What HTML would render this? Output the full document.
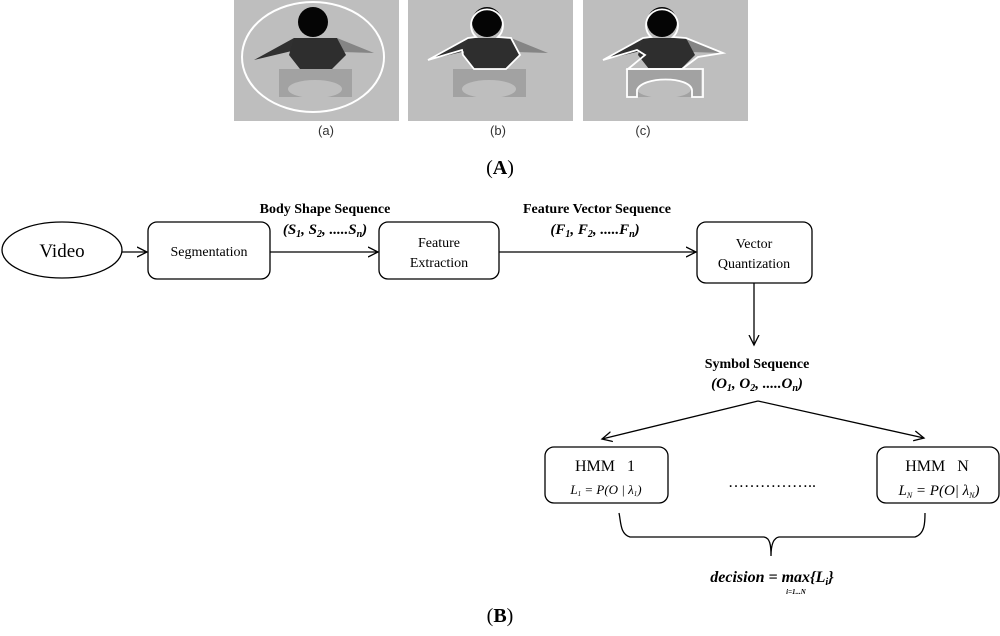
<!DOCTYPE html>
<html><head><style>body{margin:0;background:#fff}</style></head><body>
<svg width="1000" height="631" viewBox="0 0 1000 631" xmlns="http://www.w3.org/2000/svg" font-family="Liberation Serif, serif">
<defs>
<g id="fig">
<rect x="0" y="0" width="165" height="121" fill="#bebebe"/>
<rect x="45" y="69" width="73" height="28" fill="#a2a2a2"/>
<ellipse cx="81" cy="89" rx="27" ry="9" fill="#bebebe"/>
<rect x="50" y="97" width="64" height="5" fill="#bebebe"/>
<polygon points="103,38 140,53 108,52" fill="#858585"/>
<polygon points="20,60 60,38 62,50" fill="#303030"/>
<polygon points="60,38 103,38 112,55 98,69 66,69 55,55" fill="#2e2e2e"/>
<circle cx="79" cy="22" r="15" fill="#050505"/>
</g>
<marker id="ah" markerWidth="12" markerHeight="12" refX="10" refY="6" orient="auto" markerUnits="userSpaceOnUse"><path d="M0,1 L10,6 L0,11" fill="none" stroke="#000" stroke-width="1.3"/></marker>
</defs>
<use href="#fig" x="234" y="0"/>
<ellipse cx="313" cy="57" rx="71" ry="55" fill="none" stroke="#fff" stroke-width="2"/>
<use href="#fig" x="408" y="0"/>
<path d="M428,60 L468,38 L476,37 A16,16 0 1 1 498,37 L511,38 L520,55 L506,69 L474,69 L463,55 L462,50 Z" fill="none" stroke="#fff" stroke-width="1.8"/>
<use href="#fig" x="583" y="0"/>
<path d="M603,60 L643,38 L651,37 A16,16 0 1 1 673,37 L686,38 L723,53 L698,57 L682,69 L628,69 L645,55 L637,50 Z" fill="none" stroke="#fff" stroke-width="1.8"/>
<path d="M627,69 L703,69 L703,97 L692,97 L692,90 C690,76 642,76 637,90 L637,97 L627,97 Z" fill="none" stroke="#fff" stroke-width="1.8"/>
<g font-family="Liberation Sans, sans-serif" font-size="13" fill="#333" text-anchor="middle">
<text x="326" y="135">(a)</text><text x="498" y="135">(b)</text><text x="643" y="135">(c)</text></g>
<text x="500" y="174" font-size="20" text-anchor="middle">(<tspan font-weight="bold">A</tspan>)</text>
<text x="500" y="622" font-size="20" text-anchor="middle">(<tspan font-weight="bold">B</tspan>)</text>
<g fill="none" stroke="#000" stroke-width="1.3">
<ellipse cx="62" cy="250" rx="60" ry="28"/>
<rect x="148" y="222" width="122" height="57" rx="9"/>
<rect x="379" y="222" width="120" height="57" rx="9"/>
<rect x="697" y="222" width="115" height="61" rx="9"/>
<rect x="545" y="447" width="123" height="56" rx="9"/>
<rect x="877" y="447" width="122" height="56" rx="9"/>
<line x1="122" y1="252" x2="147" y2="252" marker-end="url(#ah)"/>
<line x1="270" y1="252" x2="378" y2="252" marker-end="url(#ah)"/>
<line x1="499" y1="252" x2="696" y2="252" marker-end="url(#ah)"/>
<line x1="754" y1="283" x2="754" y2="345" marker-end="url(#ah)"/>
<line x1="758" y1="401" x2="602" y2="439" marker-end="url(#ah)"/>
<line x1="758" y1="401" x2="924" y2="438" marker-end="url(#ah)"/>
<path d="M619,513 C621,522 620,534 630,537 L764,537 C770,538 771,545 771,556 C771,545 773,538 779,537 L915,537 C925,534 925,522 925,513"/>
</g>
<text x="62" y="257" font-size="19" text-anchor="middle">Video</text>
<g font-size="14" text-anchor="middle">
<text x="209" y="256">Segmentation</text>
<text x="439" y="247">Feature</text><text x="439" y="267">Extraction</text>
<text x="754" y="248">Vector</text><text x="754" y="268">Quantization</text>
</g>
<g font-size="14" font-weight="bold" text-anchor="middle">
<text x="325" y="213">Body Shape Sequence</text>
<text x="597" y="213">Feature Vector Sequence</text>
<text x="757" y="368">Symbol Sequence</text>
</g>
<g font-size="15" font-style="italic" text-anchor="middle" font-weight="bold">
<text x="325" y="234">(S<tspan font-size="10" dy="3">1</tspan><tspan dy="-3">, S</tspan><tspan font-size="10" dy="3">2</tspan><tspan dy="-3">, .....S</tspan><tspan font-size="10" dy="3">n</tspan><tspan dy="-3">)</tspan></text>
<text x="595" y="234">(F<tspan font-size="10" dy="3">1</tspan><tspan dy="-3">, F</tspan><tspan font-size="10" dy="3">2</tspan><tspan dy="-3">, .....F</tspan><tspan font-size="10" dy="3">n</tspan><tspan dy="-3">)</tspan></text>
<text x="757" y="388">(O<tspan font-size="10" dy="3">1</tspan><tspan dy="-3">, O</tspan><tspan font-size="10" dy="3">2</tspan><tspan dy="-3">, .....O</tspan><tspan font-size="10" dy="3">n</tspan><tspan dy="-3">)</tspan></text>
</g>
<g font-size="16" text-anchor="middle">
<text x="605" y="471">HMM&#160;&#160;&#160;1</text>
<text x="937" y="471">HMM&#160;&#160;&#160;N</text>
</g>
<g font-size="13" font-style="italic" text-anchor="middle">
<text x="606" y="494">L<tspan font-size="7" dy="2">1</tspan><tspan dy="-2"> = P(O | λ</tspan><tspan font-size="7" dy="2">1</tspan><tspan dy="-2">)</tspan></text>
<text x="939" y="495" font-size="15">L<tspan font-size="8" dy="3">N</tspan><tspan dy="-3"> = P(O| λ</tspan><tspan font-size="8" dy="3">N</tspan><tspan dy="-3">)</tspan></text>
</g>
<text x="772" y="487" font-size="16" text-anchor="middle">……………..</text>
<text x="772" y="582" font-size="16" font-style="italic" font-weight="bold" text-anchor="middle">decision = max{L<tspan font-size="10" dy="3">i</tspan><tspan dy="-3">}</tspan></text>
<text x="796" y="594" font-size="7" font-style="italic" font-weight="bold" text-anchor="middle">i=1...N</text>
</svg>
</body></html>
